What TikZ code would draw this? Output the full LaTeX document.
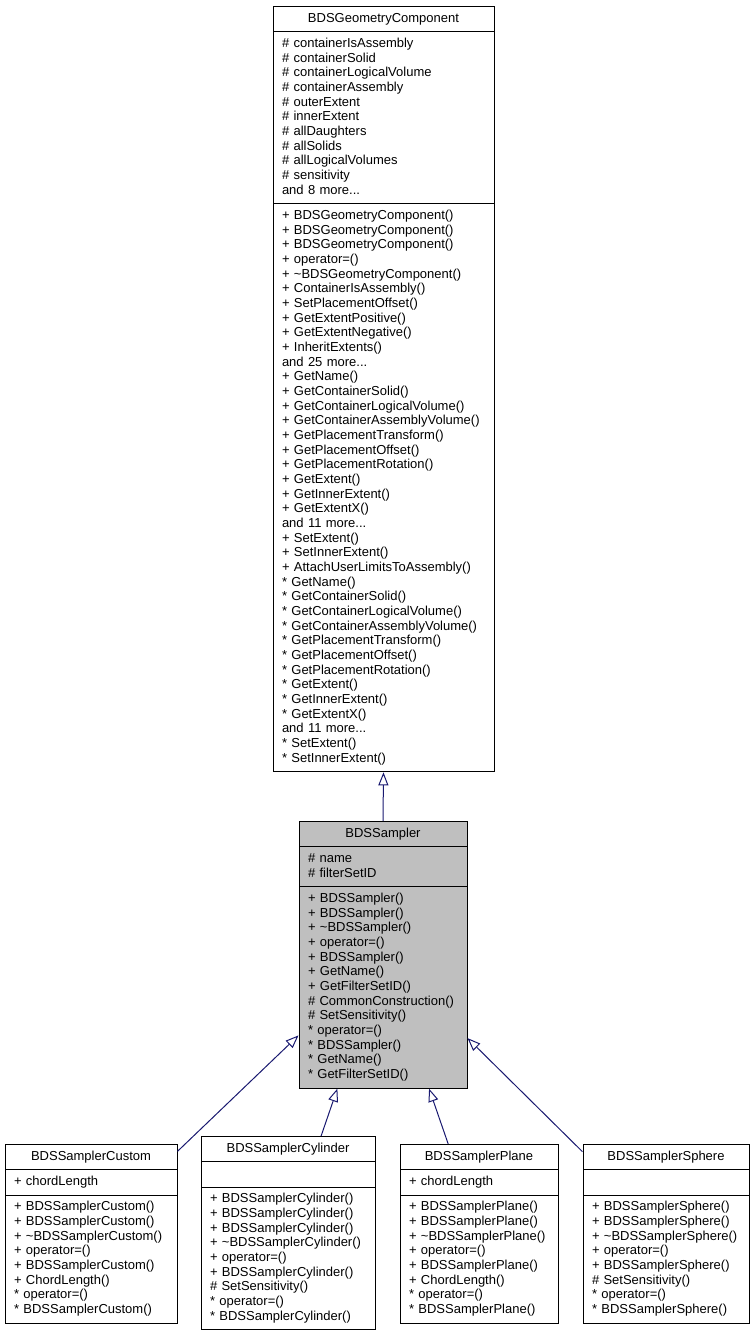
\documentclass[tikz,border=0pt]{standalone}
\usepackage{fontspec}
\setmainfont{Liberation Sans}
\usepackage{xcolor}
\definecolor{edgeblue}{HTML}{191970}
\definecolor{basegray}{HTML}{BFBFBF}
\usepackage{tikz}
\usetikzlibrary{shapes.multipart}
\usetikzlibrary{arrows.meta}
\newcommand{\classfont}{\fontsize{13}{14.667}\selectfont}
\tikzset{
  umlclass/.style ={ font=\classfont, rectangle split, rectangle split parts=3, draw=black, fill=white,
                     line width=1pt, anchor=north, inner xsep=9pt, inner ysep=4.83pt, align=left },
  baseclass/.style={ umlclass, fill=basegray },
%
  inherit/.style={{Triangle[open,length=13pt,width=10pt]}-, draw=edgeblue, line width=1pt}
}

\begin{document}
\begin{tikzpicture}[x=1pt,y=-1pt]
        \useasboundingbox (0,0) rectangle (755,1336);
        \node[umlclass,text width=203pt] (geom) at (383.5,6) {{\centering\strut BDSGeometryComponent\strut\par}
          \nodepart{second}\strut\# containerIsAssembly\\\# containerSolid\\\# containerLogicalVolume\\
          \# containerAssembly\\\# outerExtent\\\# innerExtent\\\# allDaughters\\\# allSolids\\
          \# allLogicalVolumes\\\# sensitivity\\and 8 more...\strut
          \nodepart{third}\strut + BDSGeometryComponent()\\+ BDSGeometryComponent()\\+ BDSGeometryComponent()\\
          + operator=()\\+ \textasciitilde BDSGeometryComponent()\\+ ContainerIsAssembly()\\+ SetPlacementOffset()\\
          + GetExtentPositive()\\+ GetExtentNegative()\\+ InheritExtents()\\and 25 more...\\
          + GetName()\\+ GetContainerSolid()\\+ GetContainerLogicalVolume()\\+ GetContainerAssemblyVolume()\\
          + GetPlacementTransform()\\+ GetPlacementOffset()\\+ GetPlacementRotation()\\+ GetExtent()\\
          + GetInnerExtent()\\+ GetExtentX()\\and 11 more...\\+ SetExtent()\\+ SetInnerExtent()\\
          + AttachUserLimitsToAssembly()\\{}* GetName()\\{}* GetContainerSolid()\\{}* GetContainerLogicalVolume()\\
          {}* GetContainerAssemblyVolume()\\{}* GetPlacementTransform()\\{}* GetPlacementOffset()\\
          {}* GetPlacementRotation()\\{}* GetExtent()\\{}* GetInnerExtent()\\{}* GetExtentX()\\and 11 more...\\
          {}* SetExtent()\\{}* SetInnerExtent()\strut};
        \node[baseclass,text width=150pt] (sampler) at (383,821) {{\centering\strut BDSSampler\strut\par}
          \nodepart{second}\strut\# name\\\# filterSetID\strut
          \nodepart{third}\strut + BDSSampler()\\+ BDSSampler()\\+ \textasciitilde BDSSampler()\\+ operator=()\\
          + BDSSampler()\\+ GetName()\\+ GetFilterSetID()\\\# CommonConstruction()\\\# SetSensitivity()\\
          {}* operator=()\\{}* BDSSampler()\\{}* GetName()\\{}* GetFilterSetID()\strut};
        \node[umlclass,text width=154pt] (custom) at (91,1144) {{\centering\strut BDSSamplerCustom\strut\par}
          \nodepart{second}\strut + chordLength\strut
          \nodepart{third}\strut + BDSSamplerCustom()\\+ BDSSamplerCustom()\\+ \textasciitilde BDSSamplerCustom()\\
          + operator=()\\+ BDSSamplerCustom()\\+ ChordLength()\\{}* operator=()\\{}* BDSSamplerCustom()\strut};
        \node[umlclass,text width=156pt] (cylinder) at (288,1136) {{\centering\strut BDSSamplerCylinder\strut\par}
          \nodepart{second}\strut
          \nodepart{third}\strut + BDSSamplerCylinder()\\+ BDSSamplerCylinder()\\+ BDSSamplerCylinder()\\
          + \textasciitilde BDSSamplerCylinder()\\+ operator=()\\+ BDSSamplerCylinder()\\\# SetSensitivity()\\
          {}* operator=()\\{}* BDSSamplerCylinder()\strut};
        \node[umlclass,text width=140pt] (plane) at (479,1144) {{\centering\strut BDSSamplerPlane\strut\par}
          \nodepart{second}\strut + chordLength\strut
          \nodepart{third}\strut + BDSSamplerPlane()\\+ BDSSamplerPlane()\\+ \textasciitilde BDSSamplerPlane()\\
          + operator=()\\+ BDSSamplerPlane()\\+ ChordLength()\\{}* operator=()\\{}* BDSSamplerPlane()\strut};
        \node[umlclass,text width=148pt] (sphere) at (666,1144) {{\centering\strut BDSSamplerSphere\strut\par}
          \nodepart{second}\strut
          \nodepart{third}\strut + BDSSamplerSphere()\\+ BDSSamplerSphere()\\+ \textasciitilde BDSSamplerSphere()\\
          + operator=()\\+ BDSSamplerSphere()\\\# SetSensitivity()\\{}* operator=()\\{}* BDSSamplerSphere()\strut};
        \draw[inherit] (geom.south) -- (sampler.north);
        \draw[inherit] (sampler) -- (custom);
        \draw[inherit] (sampler) -- (cylinder);
        \draw[inherit] (sampler) -- (plane);
        \draw[inherit] (sampler) -- (sphere);
      \end{tikzpicture}
\end{document}
